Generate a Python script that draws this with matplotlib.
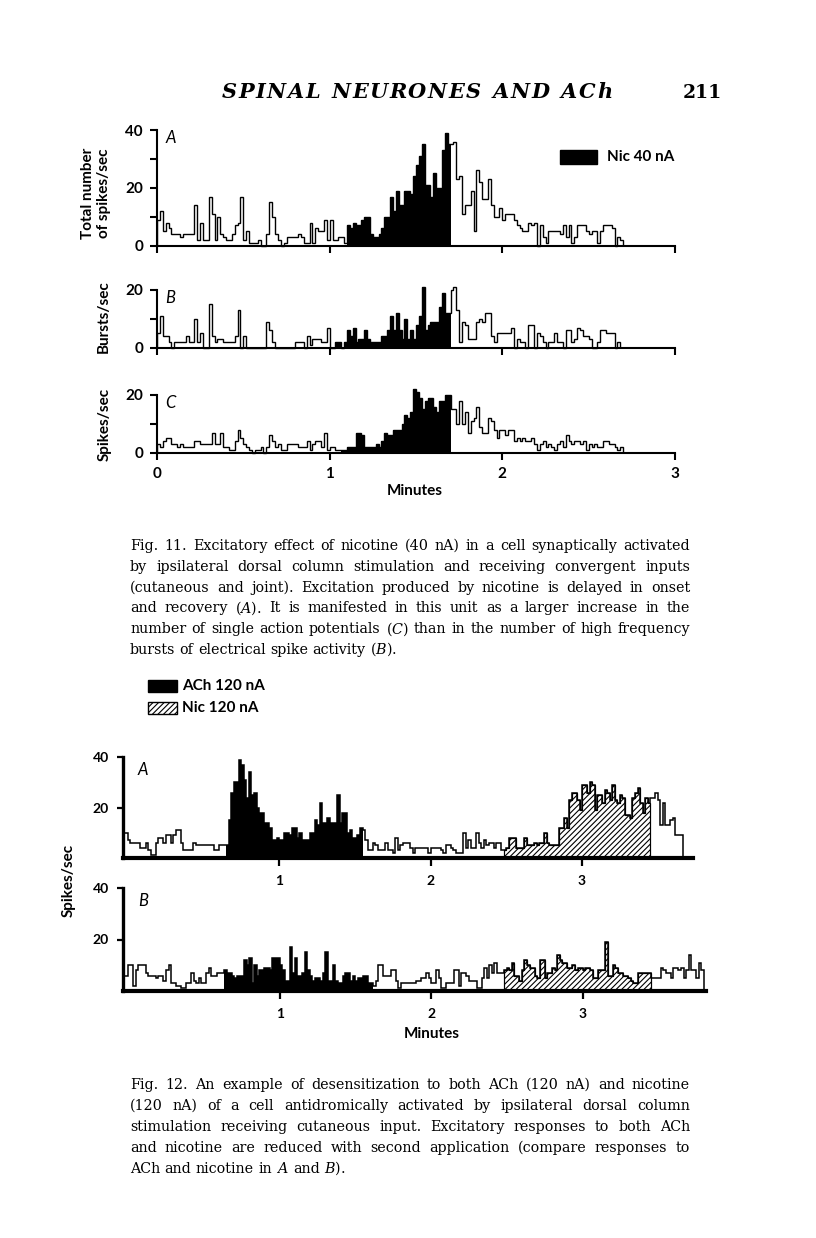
import numpy as np
import matplotlib
matplotlib.use("Agg")
import matplotlib.pyplot as plt

W, H = 816, 1238
BIN = 1 / 60  # one bin = 1 s, in minutes

# Fig. 11 - rates per 1 s bin, starting at 0 min
fig11_total = [9, 12, 5, 8, 6, 4, 4, 4, 3, 4,
               4, 4, 4, 14, 2, 8, 2, 2, 17, 11,
               2, 10, 4, 3, 2, 2, 4, 7, 8, 17,
               2, 5, 1, 1, 1, 2, 0, 0, 4, 15,
               10, 4, 2, 0, 1, 3, 3, 3, 3, 4,
               3, 1, 1, 8, 1, 6, 5, 5, 9, 2,
               9, 2, 2, 3, 3, 1, 7, 6, 8, 7,
               7, 9, 10, 10, 4, 3, 3, 4, 6, 10,
               10, 17, 12, 19, 14, 14, 19, 19, 18, 24,
               28, 31, 35, 21, 21, 17, 25, 20, 20, 33,
               39, 35, 35, 36, 23, 24, 11, 14, 14, 19,
               5, 26, 22, 16, 16, 23, 14, 10, 10, 13,
               9, 11, 11, 11, 9, 7, 6, 5, 5, 8,
               7, 8, 0, 7, 3, 1, 5, 5, 5, 5,
               4, 7, 3, 7, 1, 3, 7, 7, 7, 5,
               4, 5, 5, 1, 5, 7, 7, 7, 6, 0,
               3, 2]
fig11_bursts = [5, 11, 4, 4, 2, 0, 2, 2, 2, 2,
                4, 2, 2, 10, 2, 5, 0, 0, 15, 4,
                2, 3, 3, 2, 2, 2, 2, 4, 13, 0,
                4, 0, 0, 0, 0, 0, 0, 0, 9, 6,
                2, 0, 0, 0, 0, 0, 0, 0, 2, 2,
                2, 0, 4, 1, 3, 3, 3, 2, 2, 7,
                0, 0, 2, 2, 0, 2, 6, 4, 7, 2,
                3, 3, 6, 3, 2, 2, 2, 2, 4, 4,
                6, 11, 6, 12, 6, 3, 10, 3, 6, 3,
                8, 11, 21, 6, 8, 9, 9, 9, 14, 19,
                12, 12, 20, 21, 13, 2, 9, 8, 3, 3,
                3, 9, 10, 9, 12, 12, 4, 2, 5, 5,
                5, 5, 5, 7, 0, 3, 2, 2, 0, 8,
                8, 0, 5, 4, 2, 0, 2, 2, 5, 2,
                2, 0, 6, 6, 2, 3, 7, 6, 4, 4,
                3, 0, 0, 2, 6, 6, 5, 5, 5, 0,
                2]
fig11_spikes = [3, 2, 4, 5, 5, 3, 3, 2, 3, 2,
                2, 2, 2, 4, 4, 3, 3, 3, 3, 7,
                3, 3, 7, 2, 2, 1, 1, 4, 8, 5,
                3, 2, 1, 0, 1, 1, 2, 0, 2, 6,
                4, 2, 3, 1, 1, 3, 3, 3, 3, 2,
                2, 2, 4, 1, 3, 4, 4, 2, 7, 1,
                2, 2, 1, 1, 1, 1, 2, 2, 2, 7,
                7, 6, 2, 2, 2, 2, 3, 2, 4, 7,
                6, 6, 8, 8, 8, 10, 13, 12, 14, 22,
                21, 19, 15, 18, 19, 19, 16, 14, 18, 18,
                20, 20, 15, 15, 10, 18, 10, 14, 7, 11,
                12, 16, 9, 7, 7, 12, 11, 8, 5, 8,
                8, 6, 8, 8, 4, 5, 4, 5, 4, 4,
                5, 3, 1, 3, 4, 2, 3, 2, 1, 3,
                4, 2, 6, 4, 3, 4, 4, 3, 4, 1,
                3, 2, 3, 2, 2, 4, 4, 3, 3, 2,
                1, 2]
# first / last+1 bin under nicotine 40 nA in A, B, C
fig11_nic = [(66, 102), (62, 102), (64, 102)]

# Fig. 12 - spikes/sec per 1 s bin, starting 2 s before 0 min
fig12_start = -2
fig12_a = [10, 10, 7, 6, 6, 6, 6, 4, 4, 6,
           3, 1, 1, 6, 8, 8, 6, 9, 9, 6,
           9, 11, 11, 6, 3, 3, 3, 3, 6, 5,
           5, 5, 5, 5, 5, 5, 3, 3, 5, 5,
           5, 5, 15, 26, 30, 30, 39, 37, 31, 24,
           34, 25, 26, 20, 18, 18, 14, 14, 12, 7,
           7, 8, 7, 7, 10, 10, 9, 12, 12, 8,
           10, 7, 7, 7, 10, 10, 15, 13, 22, 14,
           14, 16, 14, 14, 14, 25, 14, 18, 18, 10,
           11, 8, 8, 9, 12, 11, 7, 3, 3, 6,
           5, 3, 3, 3, 6, 3, 3, 2, 8, 3,
           5, 6, 6, 6, 4, 2, 4, 4, 4, 4,
           4, 2, 4, 4, 4, 4, 3, 2, 5, 5,
           4, 3, 2, 2, 2, 10, 4, 7, 4, 4,
           10, 6, 4, 7, 5, 6, 6, 4, 6, 6,
           3, 3, 4, 8, 8, 8, 4, 4, 4, 8,
           5, 5, 5, 6, 5, 6, 6, 10, 6, 5,
           5, 5, 5, 12, 12, 16, 12, 23, 26, 26,
           23, 19, 29, 29, 26, 30, 29, 19, 25, 25,
           22, 27, 26, 23, 29, 23, 22, 25, 24, 17,
           17, 16, 24, 26, 28, 22, 18, 24, 22, 24,
           24, 26, 23, 13, 22, 13, 13, 15, 16, 9,
           9, 9]
fig12_b = [6, 6, 10, 10, 2, 8, 10, 10, 10, 7,
           6, 6, 6, 5, 6, 6, 4, 8, 10, 3,
           3, 2, 2, 1, 1, 3, 3, 7, 4, 3,
           5, 3, 3, 7, 9, 6, 6, 7, 7, 7,
           8, 7, 7, 6, 5, 6, 6, 6, 12, 10,
           13, 3, 10, 6, 8, 8, 9, 9, 8, 13,
           13, 13, 10, 8, 4, 4, 17, 7, 13, 6,
           6, 7, 15, 8, 6, 4, 5, 5, 4, 7,
           15, 4, 4, 10, 4, 3, 3, 6, 7, 7,
           4, 6, 4, 5, 5, 6, 6, 3, 3, 2,
           4, 10, 10, 6, 6, 6, 8, 8, 4, 1,
           3, 3, 3, 3, 3, 3, 4, 4, 5, 5,
           7, 5, 3, 3, 8, 5, 1, 1, 3, 3,
           3, 8, 8, 2, 7, 7, 6, 4, 4, 4,
           1, 1, 5, 9, 5, 10, 7, 11, 7, 7,
           7, 8, 9, 8, 11, 6, 6, 4, 8, 12,
           10, 9, 9, 6, 5, 12, 12, 5, 7, 7,
           9, 8, 14, 12, 11, 11, 9, 9, 10, 8,
           9, 9, 8, 9, 9, 8, 5, 5, 8, 8,
           8, 19, 6, 6, 10, 9, 7, 7, 6, 6,
           5, 4, 3, 3, 7, 7, 7, 7, 7, 5,
           5, 5, 5, 9, 8, 7, 7, 5, 9, 9,
           8, 9, 5, 8, 14, 8, 8, 5, 11, 8]
fig12_ach = [(41, 95), (40, 99)]
fig12_nic = [(151, 209), (151, 209)]

header = "SPINAL NEURONES AND ACh"
page_no = "211"
cap11 = ["Fig. 11. Excitatory effect of nicotine (40 nA) in a cell synaptically activated",
         "by ipsilateral dorsal column stimulation and receiving convergent inputs",
         "(cutaneous and joint). Excitation produced by nicotine is delayed in onset",
         r"and recovery ($\mathit{A}$). It is manifested in this unit as a larger increase in the",
         r"number of single action potentials ($\mathit{C}$) than in the number of high frequency",
         r"bursts of electrical spike activity ($\mathit{B}$)."]
cap12 = ["Fig. 12. An example of desensitization to both ACh (120 nA) and nicotine",
         "(120 nA) of a cell antidromically activated by ipsilateral dorsal column",
         "stimulation receiving cutaneous input. Excitatory responses to both ACh",
         "and nicotine are reduced with second application (compare responses to",
         r"ACh and nicotine in $\mathit{A}$ and $\mathit{B}$)."]

plt.rcParams['mathtext.fontset'] = 'dejavuserif'
plt.rcParams['hatch.linewidth'] = 0.8
SANS = 'Lato'
SERIF = 'DejaVu Serif'

fig = plt.figure(figsize=(W / 100, H / 100), dpi=100)
rend = fig.canvas.get_renderer()


def px_axes(x0, x1, ybot, ytop):
    ax = fig.add_axes([x0 / W, 1 - ybot / H, (x1 - x0) / W, (ybot - ytop) / H])
    ax.patch.set_alpha(0)
    return ax


def ftext(x, y, s, **kw):
    return fig.text(x / W, 1 - y / H, s, **kw)


def draw_hist(ax, vals, start, black, hatched, lw):
    vals = np.asarray(vals, float)
    edges = (np.arange(len(vals) + 1) + start) * BIN
    for s, e in black:
        ax.stairs(vals[s:e], edges[s:e + 1], fill=True, color='black', lw=0,
                  clip_on=False)
    for s, e in hatched:
        ax.stairs(vals[s:e], edges[s:e + 1], fill=True, facecolor='white',
                  edgecolor='black', hatch='//////', lw=lw * 0.8, clip_on=False)
    ax.stairs(vals, edges, baseline=0, color='black', lw=lw, clip_on=False)


def justify(x0, x1, y, line, fs, last=False):
    words = line.split(' ')
    ts = [ftext(0, y, w, fontsize=fs, family=SERIF, va='baseline') for w in words]
    ws = [t.get_window_extent(rend).width for t in ts]
    if last or len(words) == 1:
        gap = fs * 0.42
    else:
        gap = (x1 - x0 - sum(ws)) / (len(words) - 1)
    x = x0
    for t, w in zip(ts, ws):
        t.set_x(x / W)
        x += w + gap


def spread(x0, x1, y, s, space=10, **kw):
    # letter-spaced running head
    ts, ws = [], []
    for ch in s:
        t = ftext(0, y, ch if ch != ' ' else '', va='baseline', **kw)
        ts.append(t)
        ws.append(t.get_window_extent(rend).width if ch != ' ' else space)
    gap = (x1 - x0 - sum(ws)) / (len(s) - 1)
    x = x0
    for t, w in zip(ts, ws):
        t.set_x(x / W)
        x += w + gap


# ---------------- Fig. 11 ----------------
panels11 = [(fig11_total, 40, 245.7, 130, 'A'),
            (fig11_bursts, 20, 347.7, 290, 'B'),
            (fig11_spikes, 20, 452.7, 395, 'C')]
for k, (vals, ymax, ybot, ytop, letter) in enumerate(panels11):
    ax = px_axes(157, 675, ybot, ytop)
    draw_hist(ax, vals, 0, [fig11_nic[k]], [], 1.0)
    ax.set_xlim(0, 3)
    ax.set_ylim(0, ymax)
    for s in ['top', 'right']:
        ax.spines[s].set_visible(False)
    for s in ['left', 'bottom']:
        ax.spines[s].set_linewidth(1.5)
    yt = list(range(0, ymax + 1, 10))
    ax.set_yticks(yt, [str(v) if v % 20 == 0 else '' for v in yt])
    ax.set_xticks([0, 1, 2, 3], ['0', '1', '2', '3'] if letter == 'C' else [''] * 4)
    ax.tick_params(direction='out', length=5, width=1.5, pad=5,
                   labelsize=11)
    for lab in ax.get_xticklabels() + ax.get_yticklabels():
        lab.set_family(SANS)
        lab.set_weight('bold')
    ax.text(0.05, ymax, letter, fontsize=12, family=SANS, style='italic',
            va='top', ha='left')

ftext(88, 193, 'Total number', rotation=90, fontsize=11, family=SANS,
      weight='bold', ha='center', va='center')
ftext(104, 193, 'of spikes/sec', rotation=90, fontsize=11, family=SANS,
      weight='bold', ha='center', va='center')
ftext(104, 317, 'Bursts/sec', rotation=90, fontsize=11, family=SANS,
      weight='bold', ha='center', va='center')
ftext(105, 424, 'Spikes/sec', rotation=90, fontsize=11, family=SANS,
      weight='bold', ha='center', va='center')
ftext(415, 491, 'Minutes', fontsize=11, family=SANS, weight='bold',
      ha='center', va='center')

fig.patches.append(plt.Rectangle((560 / W, 1 - 164 / H), 37 / W, 14 / H,
                                 transform=fig.transFigure, color='black'))
ftext(607, 157, 'Nic 40 nA', fontsize=11, family=SANS, weight='bold', va='center')

# ---------------- Fig. 12 ----------------
panels12 = [(fig12_a, 122.7, 693, 858, 757.3, 'A', 3.733),
            (fig12_b, 123, 706, 991, 888, 'B', 3.815)]
for k, (vals, x0, x1, ybot, ytop, letter, xmax) in enumerate(panels12):
    ax = px_axes(x0, x1, ybot, ytop)
    draw_hist(ax, vals, fig12_start, [fig12_ach[k]], [fig12_nic[k]], 1.1)
    ax.set_xlim(-0.034, xmax)
    ax.set_ylim(0, 40)
    for s in ['top', 'right']:
        ax.spines[s].set_visible(False)
    ax.spines['left'].set_linewidth(2.4)
    ax.spines['bottom'].set_linewidth(3.0)
    ax.set_yticks([20, 40], ['20', '40'])
    ax.set_xticks([1, 2, 3], ['1', '2', '3'])
    ax.tick_params(direction='out', length=4, width=1.6, pad=6, labelsize=10)
    ax.tick_params(axis='x', length=6, pad=6)
    for lab in ax.get_xticklabels() + ax.get_yticklabels():
        lab.set_family(SANS)
        lab.set_weight('bold')
    ax.text(0.065, 35, letter, fontsize=12, family=SANS, style='italic',
            va='center', ha='left')

ftext(69, 880, 'Spikes/sec', rotation=90, fontsize=11, family=SANS,
      weight='bold', ha='center', va='center')
ftext(432, 1034, 'Minutes', fontsize=11, family=SANS, weight='bold',
      ha='center', va='center')

fig.patches.append(plt.Rectangle((148 / W, 1 - 692 / H), 29 / W, 12 / H,
                                 transform=fig.transFigure, color='black'))
fig.patches.append(plt.Rectangle((148 / W, 1 - 714 / H), 29 / W, 12 / H,
                                 transform=fig.transFigure, facecolor='white',
                                 edgecolor='black', hatch='//////', lw=1))
ftext(182, 686, 'ACh 120 nA', fontsize=11, family=SANS, weight='bold', va='center')
ftext(182, 708, 'Nic 120 nA', fontsize=11, family=SANS, weight='bold', va='center')

# ---------------- page text ----------------
spread(222, 612, 98, header, space=9, fontsize=15, family=SERIF,
       style='italic', weight='bold')
ftext(722, 98, page_no, fontsize=13.5, family=SERIF, weight='bold', ha='right',
      va='baseline')

for i, line in enumerate(cap11):
    justify(130, 690, 550 + i * 20.8, line, 10.3, last=(i == len(cap11) - 1))
for i, line in enumerate(cap12):
    justify(130, 690, 1089 + i * 20.9, line, 10.3, last=(i == len(cap12) - 1))

fig.savefig('out.png', dpi=100)
